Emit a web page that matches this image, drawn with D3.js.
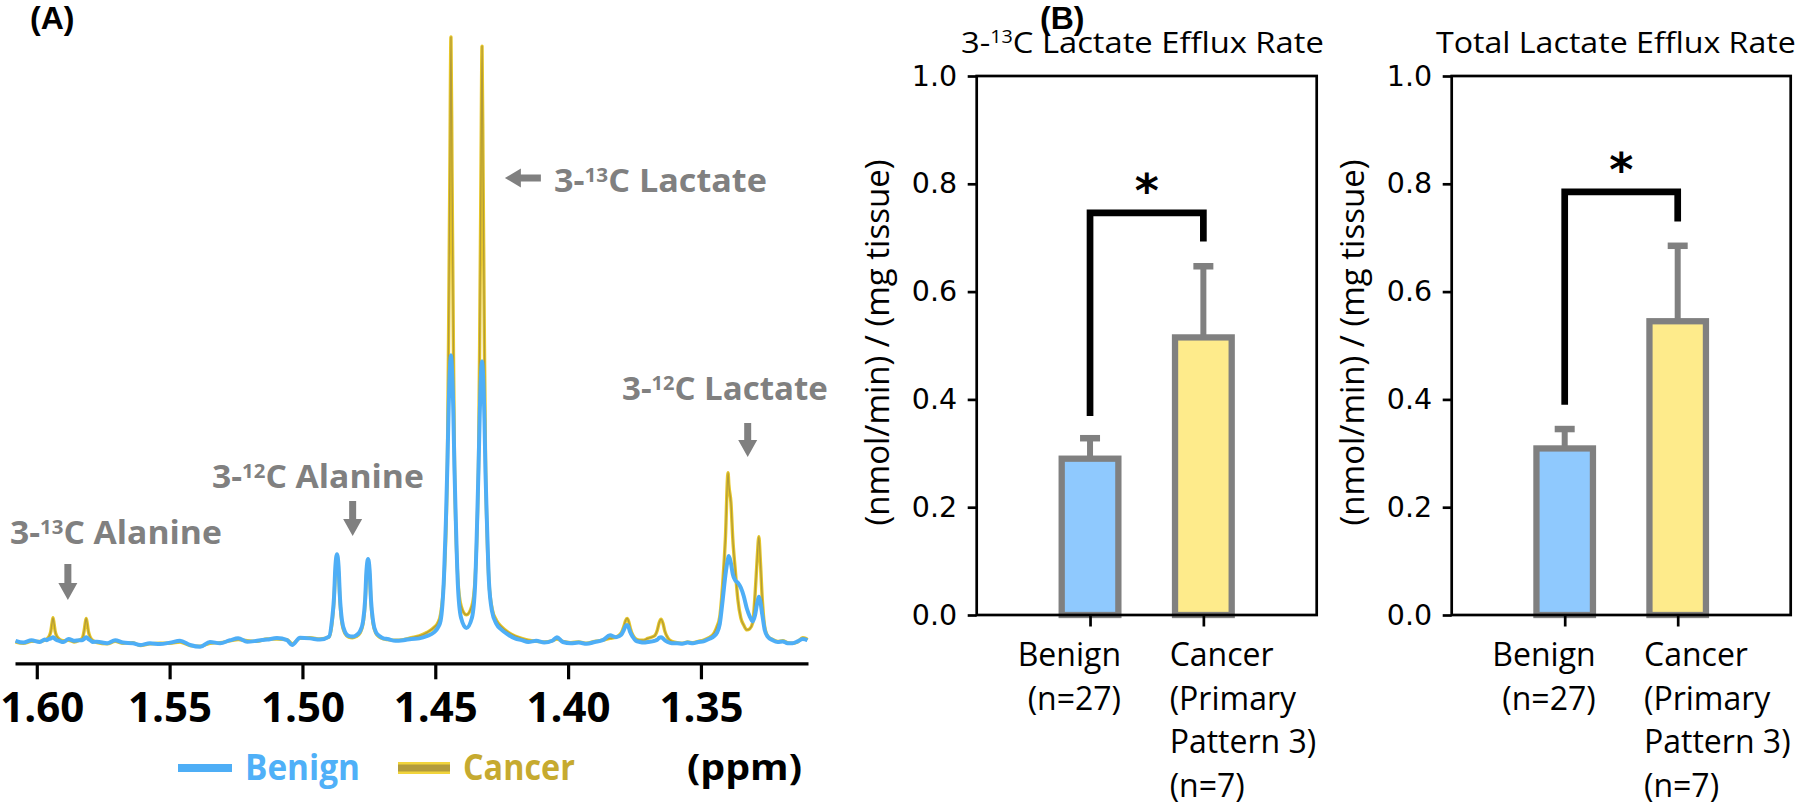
<!DOCTYPE html>
<html><head><meta charset="utf-8">
<script src="https://cdn.jsdelivr.net/npm/d3@7"></script>
<style>body{margin:0;background:#fff} svg{display:block;background:#fff}</style>
</head><body>
<svg id="c" width="1800" height="806"></svg>
<script>
// ---------------- DATA ----------------
// Panel A: 1H NMR spectrum (ppm, intensity in a.u., tallest peak = 100)
const ppm = [
1.6080,1.6050,1.6020,1.5990,1.5970,
1.5962,1.5954,1.5947,1.5943,1.5939,1.5935,1.5931,1.5924,1.5916,
1.5900,1.5880,1.5860,1.5840,
1.5829,1.5822,1.5818,1.5814,1.5810,1.5806,1.5799,1.5790,
1.5773,1.5735,1.5705,1.5675,1.5638,1.5611,1.5574,1.5536,1.5498,1.5461,1.5423,1.5385,1.5348,1.5310,1.5272,1.5242,1.5208,1.5171,1.5133,1.5096,1.5058,1.5039,1.5009,1.4971,1.4934,
1.4900,1.4889,1.4881,1.4876,1.4870,1.4864,1.4859,1.4851,1.4840,1.4826,1.4812,1.4798,1.4783,1.4772,1.4764,1.4759,1.4753,1.4747,1.4742,1.4734,1.4723,1.4710,1.4695,
1.4680,1.4650,1.4620,1.4590,1.4560,1.4530,1.4505,1.4490,1.4480,
1.4467,1.4460,1.4454,1.4450,1.4445,1.4441,1.4437,1.4432,1.4428,1.4422,1.4415,1.4403,1.4383,1.4362,1.4350,1.4343,1.4337,1.4333,1.4328,1.4324,1.4320,1.4315,1.4311,1.4305,1.4298,1.4286,1.4270,1.4250,1.4225,1.4200,
1.4175,1.4150,1.4120,1.4090,1.4060,1.4042,1.4020,1.3990,1.3960,1.3930,1.3900,1.3870,1.3842,1.3820,
1.3800,1.3790,1.3784,1.3778,1.3772,1.3766,1.3756,1.3745,1.3730,1.3715,1.3700,1.3675,1.3664,1.3657,1.3650,1.3643,1.3636,1.3625,1.3610,
1.3590,1.3570,1.3550,1.3530,1.3510,1.3490,1.3470,1.3450,
1.3440,1.3429,1.3418,1.3408,1.3398,1.3395,1.3387,1.3380,1.3371,1.3361,1.3350,1.3339,1.3327,1.3316,1.3305,1.3296,1.3288,1.3282,1.3277,1.3269,1.3260,1.3249,1.3230,1.3211,1.3192,1.3174,1.3155,1.3136,1.3117,1.3106,1.3099
];
const benign = [
0.2,-0.1,0.3,0.0,0.4,
0.3,0.5,0.6,0.7,0.8,0.7,0.5,0.3,0.2,
0.0,0.5,0.2,0.3,
0.3,0.5,0.7,0.8,0.7,0.5,0.3,0.0,
0.05,-0.2,0.3,-0.1,-0.2,-0.5,-0.2,-0.35,-0.1,0.2,-0.5,-0.8,0.0,-0.2,0.3,0.6,0.05,0.2,0.4,0.65,0.3,-0.5,0.7,0.6,0.4,
0.9,3.5,7.5,12.5,14.5,12.5,7.5,3.5,1.7,1.0,0.9,1.1,1.8,3.4,7.0,11.8,13.7,11.8,7.0,3.4,1.6,1.0,0.6,
0.5,0.2,0.3,0.5,0.6,1.0,1.6,2.4,3.5,
11,20,30,38,45,47.4,45,38,29,19,9.5,4.0,2.3,4.0,9.5,19,29,37,44,46.4,44,37,28,19,10,5.0,3.0,2.0,1.2,0.6,
0.3,0.0,0.2,-0.1,0.2,0.8,0.0,-0.2,-0.1,-0.3,0.0,0.3,1.1,0.8,
1.2,2.0,2.6,2.8,2.4,1.6,0.8,0.2,0.0,-0.1,0.0,0.2,0.4,0.7,0.8,0.6,0.3,0.0,-0.2,
-0.2,-0.3,-0.1,-0.2,0.0,0.1,0.5,1.0,
1.5,3.0,7.0,11,13.8,14.2,13.0,11.2,10.2,9.8,9.0,7.6,5.5,4.2,3.4,4.5,6.5,7.5,6.8,4.5,2.0,0.9,0.3,0.0,0.1,-0.2,-0.2,0.1,0.5,0.4,0.3
];
const cancer = [
0.0,-0.2,0.1,0.1,0.3,
0.5,0.9,1.8,3.0,4.0,3.0,1.8,0.9,0.5,
0.2,0.3,0.0,0.3,
0.6,1.8,3.0,3.9,3.0,1.8,0.8,0.3,
-0.1,-0.3,0.1,-0.2,-0.1,-0.6,-0.3,-0.2,-0.2,0.0,-0.6,-0.7,-0.2,-0.1,0.2,0.4,0.2,0.1,0.5,0.5,0.4,-0.3,0.6,0.7,0.5,
0.8,3.0,7.0,11.5,13.0,11.5,7.0,3.0,1.4,0.8,0.7,0.9,1.5,3.0,6.5,11.0,12.6,11.0,6.5,3.0,1.4,0.8,0.5,
0.4,0.3,0.4,0.7,1.0,1.6,2.4,3.2,4.6,
10.5,18,31,50,78,100,78,50,31,18,10.5,6,4.5,6,10.5,18,30.5,49,77,98.5,77,49,30.5,18,10,5.5,3.6,2.5,1.6,1.0,
0.6,0.3,0.1,0.0,0.2,0.5,0.1,-0.1,0.0,-0.2,0.1,0.3,0.6,0.8,
1.5,2.6,3.5,3.9,3.4,2.3,1.1,0.5,0.3,0.3,0.6,1.0,2.0,3.2,3.75,3.1,1.8,0.7,0.1,
-0.1,-0.2,0.0,-0.1,0.1,0.3,0.7,1.5,
2.5,4.2,9.7,17,28,26,23,17,12,7,4.0,2.8,2.0,2.2,3.2,8,14,17.4,14,7,2.5,1.0,0.4,0.1,0.2,-0.1,-0.2,0.0,0.7,0.6,0.4
];
const xTicksA = [1.60, 1.55, 1.50, 1.45, 1.40, 1.35];
const seriesNames = ["Benign", "Cancer"];
const peakIso = ["13", "12", "13", "12"];
const peakNames = ["Alanine", "Alanine", "Lactate", "Lactate"];
const peakPpm = [1.5883, 1.4811, 1.4238, 1.3324];
const axisUnit = "(ppm)";

// Panel B: bar charts
const groupLines = [["Benign", "(n=27)"], ["Cancer", "(Primary", "Pattern 3)", "(n=7)"]];
const chartTitles = [["3-", "13", "C Lactate Efflux Rate"], ["Total Lactate Efflux Rate", "", ""]];
const yLabelB = "(nmol/min) / (mg tissue)";
const meanValues = [[0.290, 0.515], [0.309, 0.545]];
const errValues = [[0.038, 0.132], [0.036, 0.140]];
const bracketTop = [0.746, 0.785];
const bracketLeftEnd = [0.369, 0.390];
const bracketRightEnd = [0.693, 0.730];
const sigMark = "*";
const yTicksB = [0.0, 0.2, 0.4, 0.6, 0.8, 1.0];
const panelTags = ["(A)", "(B)"];

// ---------------- DRAW ----------------
const svg = d3.select("#c");
const OS = "'Open Sans', 'Noto Sans', sans-serif";
const DV = "'DejaVu Sans', sans-serif";

function fitX(sel, target, ax) {
  const w = sel.node().getBBox().width;
  const k = target / w;
  sel.attr("transform", `translate(${ax},0) scale(${k},1) translate(${-ax},0)`);
}
function isoText(g, x, y, parts, size, supSize, supDy, weight, fill) {
  const t = g.append("text").attr("x", x).attr("y", y)
    .attr("font-family", OS).attr("font-weight", weight).attr("font-size", size).attr("fill", fill);
  t.append("tspan").text(parts[0]);
  if (parts[1]) {
    t.append("tspan").attr("font-size", supSize).attr("dy", supDy).text(parts[1]);
    t.append("tspan").attr("dy", -supDy).text(parts[2]);
  }
  return t;
}

// panel tags
[30, 1040].forEach((tx, i) => {
  svg.append("text").attr("x", tx).attr("y", 29).attr("font-family", "'Liberation Sans', Arial, sans-serif")
    .attr("font-weight", 700).attr("font-size", 32).text(panelTags[i]);
});

// ----- Panel A -----
const xA = d3.scaleLinear().domain([1.6082, 1.3097]).range([15, 808]);
const yA = d3.scaleLinear().domain([0, 100]).range([642, 37]);
const specLine = vals => d3.line().x((d, i) => xA(ppm[i])).y(d => yA(d)).curve(d3.curveMonotoneX)(vals);
const gA = svg.append("g");
gA.append("path").attr("d", specLine(cancer)).attr("fill", "none").attr("stroke", "#e6c62a")
  .attr("stroke-width", 3.4).attr("stroke-linejoin", "round");
gA.append("path").attr("d", specLine(cancer)).attr("fill", "none").attr("stroke", "#b49c36")
  .attr("stroke-width", 1.3).attr("stroke-linejoin", "round");
gA.append("path").attr("d", specLine(benign)).attr("fill", "none").attr("stroke", "#4eaef6")
  .attr("stroke-width", 4).attr("stroke-linejoin", "round");

const axA = d3.axisBottom(xA).tickValues(xTicksA).tickFormat(d3.format(".2f")).tickSize(16).tickSizeOuter(0);
const gAx = svg.append("g").attr("transform", "translate(0,663.3)").call(axA);
gAx.select(".domain").attr("stroke", "#000").attr("stroke-width", 3.2);
gAx.selectAll(".tick line").attr("stroke", "#000").attr("stroke-width", 3.2);
gAx.selectAll(".tick text").attr("y", 58.4).attr("dy", null).attr("font-family", OS)
  .attr("font-weight", 700).attr("font-size", 42).attr("fill", "#000")
  .attr("dx", (d, i) => i === 0 ? 5 : 0);

// legend
const gray = "#808080";
svg.append("line").attr("x1", 178).attr("x2", 232).attr("y1", 768).attr("y2", 768)
  .attr("stroke", "#4eaef6").attr("stroke-width", 8);
fitX(svg.append("text").attr("x", 245).attr("y", 780).attr("font-family", OS).attr("font-weight", 700)
  .attr("font-size", 35).attr("fill", "#4fb0f8").text(seriesNames[0]), 115, 245);
svg.append("line").attr("x1", 398).attr("x2", 450).attr("y1", 768).attr("y2", 768)
  .attr("stroke", "#f1d43c").attr("stroke-width", 12);
svg.append("line").attr("x1", 398).attr("x2", 450).attr("y1", 768).attr("y2", 768)
  .attr("stroke", "#b29b3c").attr("stroke-width", 7);
fitX(svg.append("text").attr("x", 463).attr("y", 780).attr("font-family", OS).attr("font-weight", 700)
  .attr("font-size", 35).attr("fill", "#c6aa2f").text(seriesNames[1]), 112, 463);
fitX(svg.append("text").attr("x", 687).attr("y", 780).attr("font-family", OS).attr("font-weight", 700)
  .attr("font-size", 36).attr("fill", "#000").text(axisUnit), 115, 687);

// peak annotations (layout: text start, baseline, width, arrow geometry)
const annLayout = [
  {tx: 10, ty: 544, w: 212, dir: "down", a0: 564, a1: 583, a2: 600},
  {tx: 212, ty: 488, w: 212, dir: "down", a0: 501, a1: 519, a2: 536},
  {tx: 554, ty: 192, w: 213, dir: "left", ay: 178, len: 36, head: 16},
  {tx: 622, ty: 400, w: 206, dir: "down", a0: 423, a1: 440, a2: 457}
];
peakNames.forEach((nm, i) => {
  const L = annLayout[i];
  const t = isoText(svg, L.tx, L.ty, ["3-", peakIso[i], "C " + nm], 33, 20, -10, 700, gray);
  fitX(t, L.w, L.tx);
  const ax = xA(peakPpm[i]);
  let p;
  if (L.dir === "down") {
    p = `M${ax-3.5},${L.a0}L${ax+3.5},${L.a0}L${ax+3.5},${L.a1}L${ax+9.5},${L.a1}L${ax},${L.a2}L${ax-9.5},${L.a1}L${ax-3.5},${L.a1}Z`;
  } else {
    const y = L.ay, tip = ax, he = ax + L.head, tail = ax + L.len;
    p = `M${tail},${y-3.5}L${he},${y-3.5}L${he},${y-9.5}L${tip},${y}L${he},${y+9.5}L${he},${y+3.5}L${tail},${y+3.5}Z`;
  }
  svg.append("path").attr("d", p).attr("fill", gray);
});

// ----- Panel B -----
const yB = d3.scaleLinear().domain([0, 1]).range([615, 76]);
const frames = [[976.7, 1316.7], [1451.7, 1790.7]];
const titleW = [363, 360];
const barFill = ["#8fc9fe", "#feeb8b"];

meanValues.forEach((means, c) => {
  const [L, R] = frames[c];
  const xB = d3.scaleLinear().domain([-1, 2]).range([L, R]);
  const g = svg.append("g");

  // bars
  g.selectAll("rect.bar").data(means).join("rect").attr("class", "bar")
    .attr("x", (d, i) => xB(i - 0.25)).attr("width", xB(0.25) - xB(-0.25))
    .attr("y", d => yB(d)).attr("height", d => yB(0) - yB(d))
    .attr("fill", (d, i) => barFill[i]).attr("stroke", gray).attr("stroke-width", 6.3);

  // error bars (upper)
  g.selectAll("line.stem").data(means).join("line").attr("class", "stem")
    .attr("x1", (d, i) => xB(i)).attr("x2", (d, i) => xB(i))
    .attr("y1", d => yB(d)).attr("y2", (d, i) => yB(d + errValues[c][i]))
    .attr("stroke", gray).attr("stroke-width", 6);
  g.selectAll("line.cap").data(means).join("line").attr("class", "cap")
    .attr("x1", (d, i) => xB(i) - 10).attr("x2", (d, i) => xB(i) + 10)
    .attr("y1", (d, i) => yB(d + errValues[c][i])).attr("y2", (d, i) => yB(d + errValues[c][i]))
    .attr("stroke", gray).attr("stroke-width", 6.5);

  // significance bracket
  g.append("path")
    .attr("d", `M${xB(0)},${yB(bracketLeftEnd[c])}V${yB(bracketTop[c])}H${xB(1)}V${yB(bracketRightEnd[c])}`)
    .attr("fill", "none").attr("stroke", "#000").attr("stroke-width", 6.7).attr("stroke-linejoin", "miter");
  g.append("text").attr("x", (xB(0) + xB(1)) / 2).attr("y", yB(bracketTop[c]) - 6)
    .attr("text-anchor", "middle").attr("font-family", DV).attr("font-weight", 700)
    .attr("font-size", 46).attr("fill", "#000").text(sigMark);

  // frame
  g.append("rect").attr("x", L).attr("y", yB(1)).attr("width", R - L).attr("height", yB(0) - yB(1))
    .attr("fill", "none").attr("stroke", "#000").attr("stroke-width", 2.7);

  // y axis
  const ay = d3.axisLeft(yB).tickValues(yTicksB).tickFormat(d3.format(".1f")).tickSize(9).tickPadding(10.5);
  const gy = g.append("g").attr("transform", `translate(${L},0)`).call(ay);
  gy.select(".domain").remove();
  gy.selectAll(".tick line").attr("stroke", "#000").attr("stroke-width", 2.7);
  gy.selectAll(".tick text").attr("font-family", DV).attr("font-size", 28.5).attr("fill", "#000");

  // x axis ticks
  const axB = d3.axisBottom(xB).tickValues([0, 1]).tickSize(11.5).tickFormat("");
  const gx = g.append("g").attr("transform", `translate(0,${yB(0)})`).call(axB);
  gx.select(".domain").remove();
  gx.selectAll(".tick line").attr("stroke", "#000").attr("stroke-width", 2.7);

  // category labels
  groupLines.forEach((lines, i) => {
    lines.forEach((ln, j) => {
      g.append("text")
        .attr("x", i === 0 ? xB(i) + 31 : xB(i) - 33.7)
        .attr("y", yB(0) + 51 + j * 43.5)
        .attr("text-anchor", i === 0 ? "end" : "start")
        .attr("font-family", OS).attr("font-size", 32).attr("fill", "#000").text(ln);
    });
  });

  // title
  const tx = L - 15.7;
  const tt = isoText(g, tx, 53, chartTitles[c], 29, 17.5, -9.5, 400, "#000");
  fitX(tt, titleW[c], tx);

  // y label
  const gl = g.append("g").attr("transform", `translate(${L - 87.5},${(yB(0) + yB(1)) / 2 - 3}) rotate(-90)`);
  const yl = gl.append("text").attr("x", 0).attr("y", 0).attr("text-anchor", "middle")
    .attr("font-family", OS).attr("font-size", 32).attr("fill", "#000").text(yLabelB);
  fitX(yl, 366, 0);
});
</script>
</body></html>
